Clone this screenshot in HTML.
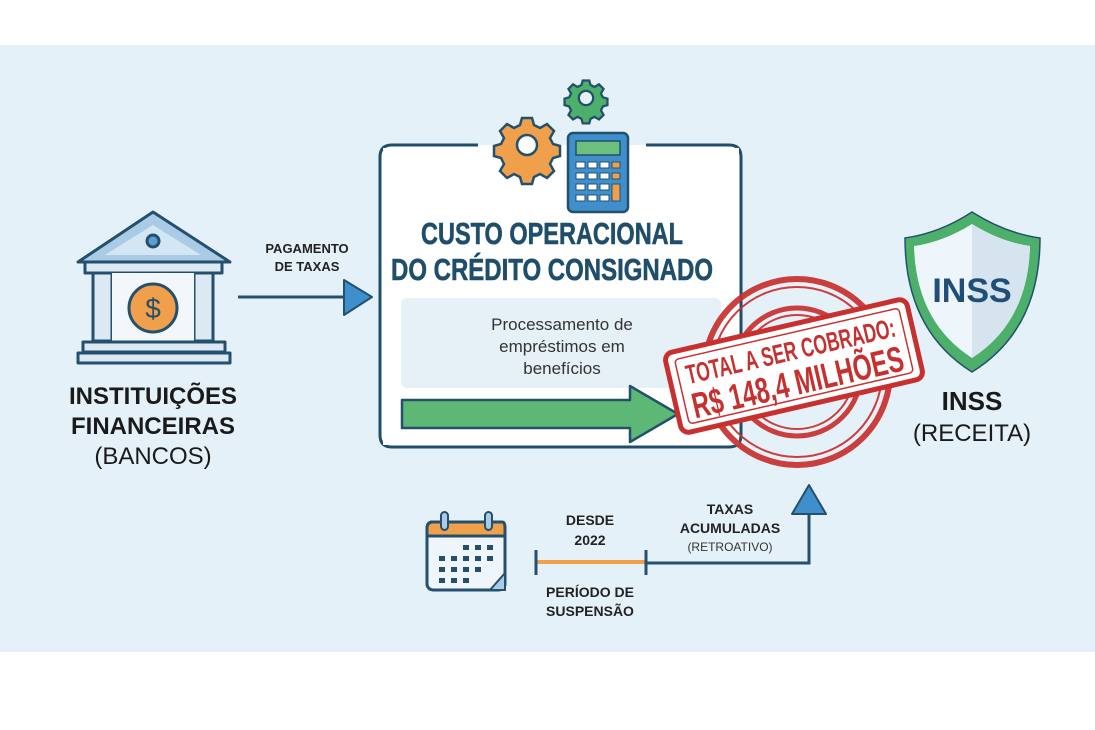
<!DOCTYPE html>
<html><head><meta charset="utf-8"><style>
html,body{margin:0;padding:0;background:#fff}
svg{display:block}
text{font-family:"Liberation Sans",sans-serif}
</style></head><body>
<svg width="1095" height="730" viewBox="0 0 1095 730" xmlns="http://www.w3.org/2000/svg">
<rect x="0" y="0" width="1095" height="730" fill="#fff"/>
<rect x="0" y="45" width="1095" height="607" fill="#e5f1f9"/>

<!-- Bank -->
<g stroke="#24506e" stroke-width="3" stroke-linejoin="round">
<polygon points="153,212 78,262 230,262" fill="#a9cbe6"/>
<polygon points="153,225 105,255 201,255" fill="#d3e6f4" stroke-width="0"/>
<circle cx="153" cy="241" r="6" fill="#5a9fd4"/>
<rect x="85" y="262" width="137" height="11" fill="#dce9f3"/>
<rect x="93" y="273" width="19" height="68" fill="#dce9f3"/>
<rect x="194" y="273" width="19" height="68" fill="#dce9f3"/>
<rect x="112" y="273" width="82" height="68" fill="#f2f7fb" stroke-width="0"/>
<circle cx="153" cy="308" r="24" fill="#f0a04b"/>
<rect x="83" y="342" width="142" height="10" fill="#dce9f3"/>
<rect x="78" y="353" width="152" height="10" fill="#dce9f3"/>
</g>
<text x="153" y="318" font-size="28" text-anchor="middle" fill="#24506e">$</text>
<text x="153" y="404" font-size="24" font-weight="bold" text-anchor="middle" fill="#1a1a1a">INSTITUIÇÕES</text>
<text x="153" y="434" font-size="24" font-weight="bold" text-anchor="middle" fill="#1a1a1a">FINANCEIRAS</text>
<text x="153" y="464" font-size="24" text-anchor="middle" fill="#1a1a1a">(BANCOS)</text>

<!-- Arrow 1 -->
<text x="307" y="253" font-size="13" font-weight="bold" text-anchor="middle" fill="#222">PAGAMENTO</text>
<text x="307" y="271" font-size="13" font-weight="bold" text-anchor="middle" fill="#222">DE TAXAS</text>
<line x1="238" y1="297" x2="346" y2="297" stroke="#24506e" stroke-width="3"/>
<polygon points="344,280 372,297 344,315" fill="#3f8fcc" stroke="#24506e" stroke-width="2" stroke-linejoin="round"/>

<!-- Central box -->
<path d="M478,145 H392 Q380,145 380,157 V435 Q380,447 392,447 H729 Q741,447 741,435 V157 Q741,145 729,145 H646" fill="#fff" stroke="#1f4e6b" stroke-width="3"/>
<rect x="383" y="148" width="356" height="297" fill="#fff"/>
<!-- gears -->
<g transform="translate(527,145)">
<g fill="#f0a04b" stroke="#24506e" stroke-width="2.5">
<path d="M-5,-27 h10 l2,7 l6,3 l7,-4 l7,7 l-4,7 l3,6 l7,2 v10 l-7,2 l-3,6 l4,7 l-7,7 l-7,-4 l-6,3 l-2,7 h-10 l-2,-7 l-6,-3 l-7,4 l-7,-7 l4,-7 l-3,-6 l-7,-2 v-10 l7,-2 l3,-6 l-4,-7 l7,-7 l7,4 l6,-3 z"/>
<circle r="10" fill="#fff"/>
</g></g>
<g transform="translate(586,98) scale(0.65)">
<g fill="#4caf6a" stroke="#24506e" stroke-width="3.5">
<path d="M-5,-27 h10 l2,7 l6,3 l7,-4 l7,7 l-4,7 l3,6 l7,2 v10 l-7,2 l-3,6 l4,7 l-7,7 l-7,-4 l-6,3 l-2,7 h-10 l-2,-7 l-6,-3 l-7,4 l-7,-7 l4,-7 l-3,-6 l-7,-2 v-10 l7,-2 l3,-6 l-4,-7 l7,-7 l7,4 l6,-3 z"/>
<circle r="11" fill="#e5f1f9"/>
</g></g>
<!-- calculator -->
<rect x="568" y="133" width="60" height="79" rx="5" fill="#3f8fcc" stroke="#24506e" stroke-width="2.5"/>
<rect x="576" y="141" width="44" height="14" fill="#6cc07e" stroke="#24506e" stroke-width="1.5"/>
<g fill="#fff" stroke="#24506e" stroke-width="1">
<rect x="576" y="162" width="9" height="6"/><rect x="588" y="162" width="9" height="6"/><rect x="600" y="162" width="9" height="6"/><rect x="612" y="162" width="8" height="6" fill="#f0a04b"/>
<rect x="576" y="173" width="9" height="6"/><rect x="588" y="173" width="9" height="6"/><rect x="600" y="173" width="9" height="6"/><rect x="612" y="173" width="8" height="6" fill="#f0a04b"/>
<rect x="576" y="184" width="9" height="6"/><rect x="588" y="184" width="9" height="6"/><rect x="600" y="184" width="9" height="6"/><rect x="612" y="184" width="8" height="17" fill="#f0a04b"/>
<rect x="576" y="195" width="9" height="6"/><rect x="588" y="195" width="9" height="6"/><rect x="600" y="195" width="9" height="6"/>
</g>
<text x="552" y="244" font-size="31" font-weight="bold" text-anchor="middle" fill="#1f4e6b" stroke="#1f4e6b" stroke-width="0.6" textLength="262" lengthAdjust="spacingAndGlyphs">CUSTO OPERACIONAL</text>
<text x="552" y="280" font-size="31" font-weight="bold" text-anchor="middle" fill="#1f4e6b" stroke="#1f4e6b" stroke-width="0.6" textLength="322" lengthAdjust="spacingAndGlyphs">DO CRÉDITO CONSIGNADO</text>
<rect x="401" y="298" width="320" height="90" rx="6" fill="#e6f0f7"/>
<text x="562" y="330" font-size="17" text-anchor="middle" fill="#333">Processamento de</text>
<text x="562" y="352" font-size="17" text-anchor="middle" fill="#333">empréstimos em</text>
<text x="562" y="374" font-size="17" text-anchor="middle" fill="#333">benefícios</text>
<polygon points="402,400 630,400 630,386 678,414 630,442 630,428 402,428" fill="#5cb874" stroke="#24506e" stroke-width="2.5" stroke-linejoin="round"/>

<!-- Stamp -->
<g fill="none" stroke="#c8302f" opacity="0.92">
<circle cx="797" cy="372" r="93" stroke-width="6"/>
<circle cx="797" cy="372" r="85" stroke-width="2"/>
<circle cx="797" cy="372" r="64" stroke-width="5"/>
<circle cx="797" cy="372" r="57" stroke-width="2"/>
</g>
<g transform="translate(794,366) rotate(-13)">
<rect x="-124" y="-41" width="248" height="82" rx="8" fill="#fff" stroke="#c8302f" stroke-width="5"/>
<rect x="-115" y="-33" width="230" height="66" rx="4" fill="none" stroke="#c8302f" stroke-width="1.5"/>
<text x="0" y="-6" font-size="27" font-weight="bold" text-anchor="middle" fill="#c8302f" textLength="214" lengthAdjust="spacingAndGlyphs">TOTAL A SER COBRADO:</text>
<text x="0" y="29" font-size="36" font-weight="bold" text-anchor="middle" fill="#c8302f" textLength="216" lengthAdjust="spacingAndGlyphs">R$ 148,4 MILHÕES</text>
</g>

<!-- Shield -->
<path d="M972,212 Q1005,233 1040,238 Q1040,330 972,372 Q905,330 905,238 Q940,233 972,212 Z" fill="#4caf6a" stroke="#24506e" stroke-width="1.5"/>
<path d="M972,224 Q1001,242 1030,246 Q1028,322 972,358 Q916,322 914,246 Q943,242 972,224 Z" fill="#eef5fb"/>
<path d="M972,224 Q1001,242 1030,246 Q1028,322 972,358 Z" fill="#d6e4ef"/>
<text x="972" y="302" font-size="34" font-weight="bold" text-anchor="middle" fill="#1f4e79">INSS</text>
<text x="972" y="410" font-size="26" font-weight="bold" text-anchor="middle" fill="#1a1a1a">INSS</text>
<text x="972" y="441" font-size="24" text-anchor="middle" fill="#1a1a1a">(RECEITA)</text>

<!-- Calendar -->
<rect x="427" y="522" width="78" height="68" rx="6" fill="#eef5fb" stroke="#24506e" stroke-width="3"/>
<path d="M430,522 H502 Q505,522 505,528 V536 H427 V528 Q427,522 433,522 Z" fill="#f0a04b" stroke="#24506e" stroke-width="3"/>
<rect x="441" y="512" width="7" height="18" rx="3.5" fill="#a9cbe6" stroke="#24506e" stroke-width="2"/>
<rect x="485" y="512" width="7" height="18" rx="3.5" fill="#a9cbe6" stroke="#24506e" stroke-width="2"/>
<g fill="#24506e">
<rect x="463" y="545" width="6" height="5"/><rect x="475" y="545" width="6" height="5"/><rect x="487" y="545" width="6" height="5"/>
<rect x="439" y="556" width="6" height="5"/><rect x="451" y="556" width="6" height="5"/><rect x="463" y="556" width="6" height="5"/><rect x="475" y="556" width="6" height="5"/><rect x="487" y="556" width="6" height="5"/>
<rect x="439" y="567" width="6" height="5"/><rect x="451" y="567" width="6" height="5"/><rect x="463" y="567" width="6" height="5"/><rect x="475" y="567" width="6" height="5"/>
<rect x="439" y="578" width="6" height="5"/><rect x="451" y="578" width="6" height="5"/><rect x="463" y="578" width="6" height="5"/>
</g>
<path d="M505,573 L490,590 L505,590 Z" fill="#a9cbe6" stroke="#24506e" stroke-width="2"/>

<text x="590" y="525" font-size="14" font-weight="bold" text-anchor="middle" fill="#222">DESDE</text>
<text x="590" y="545" font-size="14" font-weight="bold" text-anchor="middle" fill="#222">2022</text>
<line x1="537" y1="562" x2="646" y2="562" stroke="#f0a04b" stroke-width="4"/>
<line x1="536" y1="550" x2="536" y2="575" stroke="#24506e" stroke-width="3"/>
<line x1="646" y1="550" x2="646" y2="575" stroke="#24506e" stroke-width="3"/>
<text x="590" y="597" font-size="14" font-weight="bold" text-anchor="middle" fill="#222">PERÍODO DE</text>
<text x="590" y="616" font-size="14" font-weight="bold" text-anchor="middle" fill="#222">SUSPENSÃO</text>

<polyline points="646,563 809,563 809,510" fill="none" stroke="#24506e" stroke-width="3"/>
<polygon points="809,485 826,514 792,514" fill="#3f8fcc" stroke="#24506e" stroke-width="2" stroke-linejoin="round"/>
<text x="730" y="514" font-size="14" font-weight="bold" text-anchor="middle" fill="#222">TAXAS</text>
<text x="730" y="533" font-size="14" font-weight="bold" text-anchor="middle" fill="#222">ACUMULADAS</text>
<text x="730" y="551" font-size="12" text-anchor="middle" fill="#333">(RETROATIVO)</text>
</svg>
</body></html>
